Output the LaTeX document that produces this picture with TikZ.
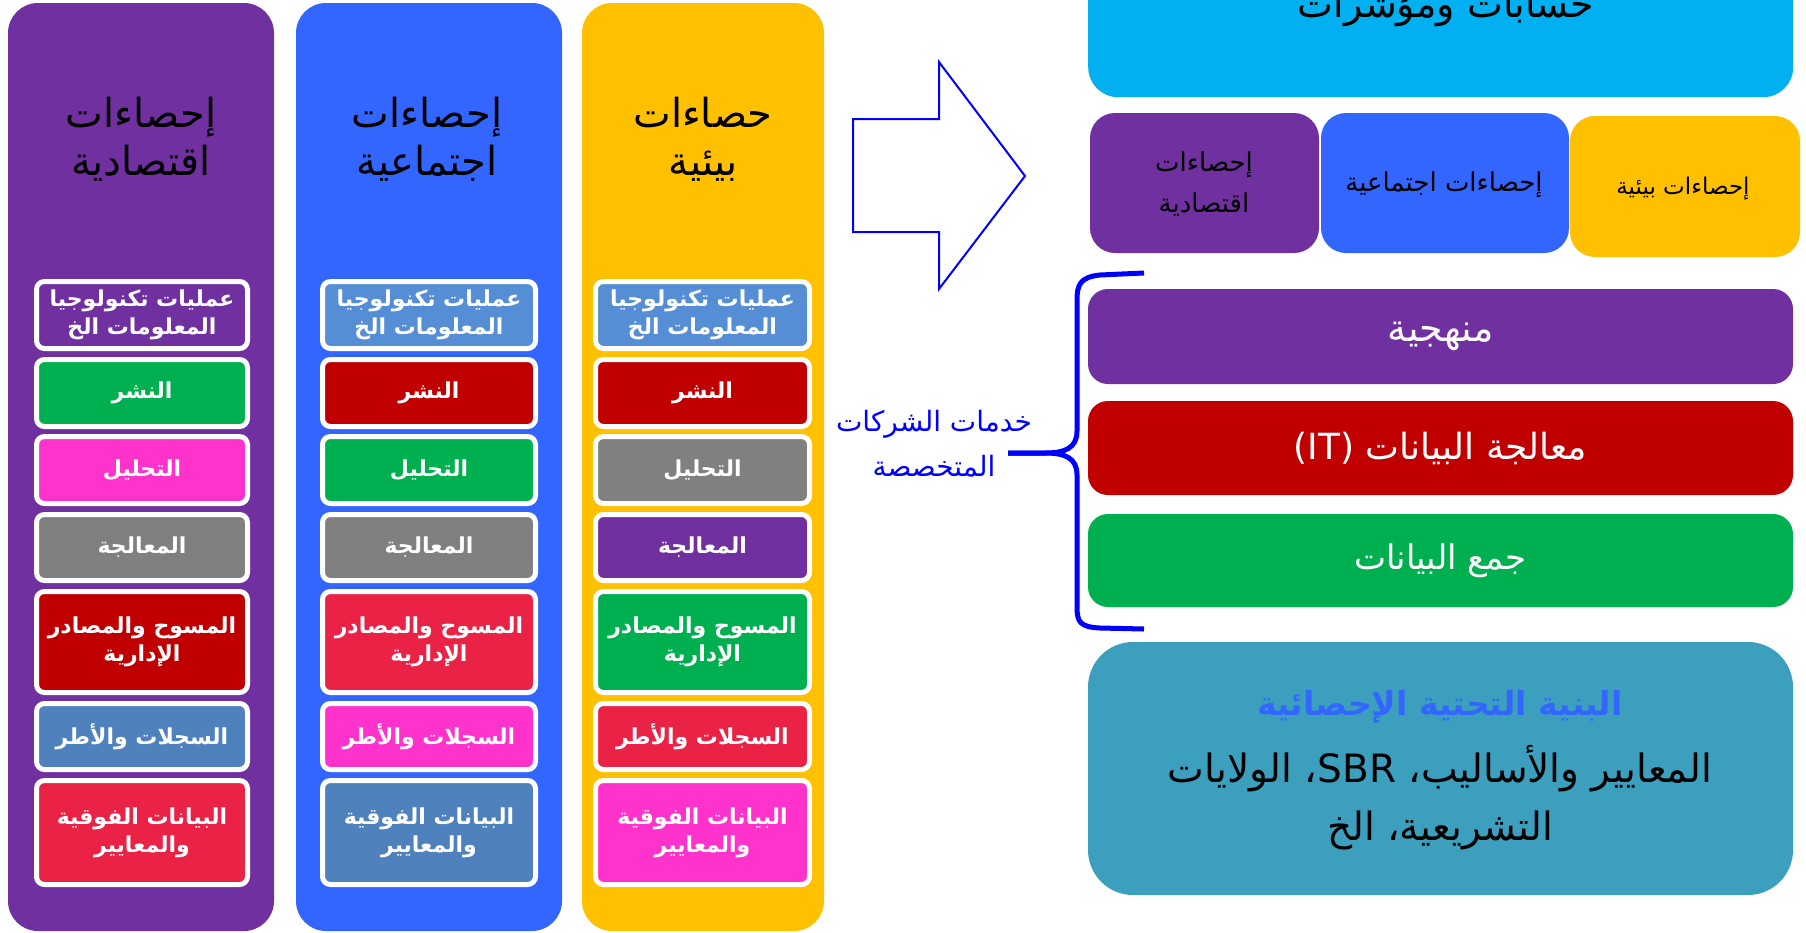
\documentclass[tikz,border=0pt]{standalone}
\usepackage{fontspec}
\setmainfont{DejaVu Sans}
\newfontfamily\ar[Script=Arabic]{DejaVu Sans}
\TeXXeTstate=1
\newcommand{\rtl}[1]{{\ar\beginR #1\endR}}
\definecolor{cPurple}{HTML}{7030A0}
\definecolor{cBlue}{HTML}{3366FF}
\definecolor{cYellow}{HTML}{FFC000}
\definecolor{cCyan}{HTML}{00B0F0}
\definecolor{cTeal}{HTML}{3C9FBE}
\definecolor{cGreen}{HTML}{00B050}
\definecolor{cDark}{HTML}{C00000}
\definecolor{cGray}{HTML}{808080}
\definecolor{cMag}{HTML}{FF33CC}
\definecolor{cSteel}{HTML}{4F81BD}
\definecolor{cLight}{HTML}{558ED5}
\definecolor{cCrim}{HTML}{EA2246}
\definecolor{cPure}{HTML}{0000FF}
\tikzset{
  column/.style={draw=none, fill=#1, rounded corners=30pt, inner sep=0pt},
  item/.style={draw=white, line width=5pt, fill=#1, rounded corners=8pt, text=white, align=center,
     font=\ar\bfseries\fontsize{22}{28}\selectfont, inner sep=0pt},
  colhead/.style={align=center, text=black, font=\ar\fontsize{40}{48}\selectfont},
  rbox/.style={draw=none, fill=#1, rounded corners=20pt, inner sep=0pt, align=center},
  brace/.style={draw=cPure, line width=5pt},
  bigarrow/.style={draw=cPure, line width=2pt, fill=white},
}
\begin{document}
\begin{tikzpicture}[x=1pt,y=-1pt]
\clip (0,0) rectangle (1806,932);
\fill[white] (0,0) rectangle (1806,932);

% columns
\node[column=cPurple, minimum width=266pt, minimum height=928pt] (c1) at (141,467) {};
\node[column=cBlue, minimum width=266pt, minimum height=928pt] (c2) at (429,467) {};
\node[column=cYellow, minimum width=242pt, minimum height=928pt] (c3) at (703,467) {};

\node[colhead] (h1) at (141,139) {\rtl{إحصاءات}\\\rtl{اقتصادية}};
\node[colhead] (h2) at (427,139) {\rtl{إحصاءات}\\\rtl{اجتماعية}};
\node[colhead] (h3) at (703,139) {\rtl{حصاءات}\\\rtl{بيئية}};

% column 1 items
\node[item=cPurple, minimum width=211pt, minimum height=67pt] (a1) at (142,315) {\rtl{عمليات تكنولوجيا}\\\rtl{المعلومات الخ}};
\node[item=cGreen, minimum width=211pt, minimum height=67pt] (a2) at (142,393) {\rtl{النشر}};
\node[item=cMag, minimum width=211pt, minimum height=67pt] (a3) at (142,470) {\rtl{التحليل}};
\node[item=cGray, minimum width=211pt, minimum height=66pt] (a4) at (142,547.5) {\rtl{المعالجة}};
\node[item=cDark, minimum width=211pt, minimum height=101pt] (a5) at (142,642) {\rtl{المسوح والمصادر}\\\rtl{الإدارية}};
\node[item=cSteel, minimum width=211pt, minimum height=66pt] (a6) at (142,736.5) {\rtl{السجلات والأطر}};
\node[item=cCrim, minimum width=211pt, minimum height=104pt] (a7) at (142,832.5) {\rtl{البيانات الفوقية}\\\rtl{والمعايير}};

% column 2 items
\node[item=cLight, minimum width=213pt, minimum height=67pt] (b1) at (429,315) {\rtl{عمليات تكنولوجيا}\\\rtl{المعلومات الخ}};
\node[item=cDark, minimum width=213pt, minimum height=67pt] (b2) at (429,393) {\rtl{النشر}};
\node[item=cGreen, minimum width=213pt, minimum height=67pt] (b3) at (429,470) {\rtl{التحليل}};
\node[item=cGray, minimum width=213pt, minimum height=66pt] (b4) at (429,547.5) {\rtl{المعالجة}};
\node[item=cCrim, minimum width=213pt, minimum height=101pt] (b5) at (429,642) {\rtl{المسوح والمصادر}\\\rtl{الإدارية}};
\node[item=cMag, minimum width=213pt, minimum height=66pt] (b6) at (429,736.5) {\rtl{السجلات والأطر}};
\node[item=cSteel, minimum width=213pt, minimum height=104pt] (b7) at (429,832.5) {\rtl{البيانات الفوقية}\\\rtl{والمعايير}};

% column 3 items
\node[item=cLight, minimum width=214pt, minimum height=67pt] (d1) at (702.5,315) {\rtl{عمليات تكنولوجيا}\\\rtl{المعلومات الخ}};
\node[item=cDark, minimum width=214pt, minimum height=67pt] (d2) at (702.5,393) {\rtl{النشر}};
\node[item=cGray, minimum width=214pt, minimum height=67pt] (d3) at (702.5,470) {\rtl{التحليل}};
\node[item=cPurple, minimum width=214pt, minimum height=66pt] (d4) at (702.5,547.5) {\rtl{المعالجة}};
\node[item=cGreen, minimum width=214pt, minimum height=101pt] (d5) at (702.5,642) {\rtl{المسوح والمصادر}\\\rtl{الإدارية}};
\node[item=cCrim, minimum width=214pt, minimum height=66pt] (d6) at (702.5,736.5) {\rtl{السجلات والأطر}};
\node[item=cMag, minimum width=214pt, minimum height=104pt] (d7) at (702.5,832.5) {\rtl{البيانات الفوقية}\\\rtl{والمعايير}};

% big arrow
\draw[bigarrow] (853,119) -- (939,119) -- (939,62) -- (1025,176) -- (939,289) -- (939,232) -- (853,232) -- cycle;

% services label and brace
\node[align=center, text=cPure, font=\ar\fontsize{28}{45}\selectfont] (svc) at (934,444) {\rtl{خدمات الشركات}\\\rtl{المتخصصة}};
\coordinate (bt) at (1144,273);
\coordinate (bb) at (1144,629);
\coordinate (tip) at (1008,453);
\draw[brace] (bt) -- (1100,275) .. controls (1080,277) and (1077,285) .. (1077,300) -- (1077,431)
   .. controls (1077,448) and (1065,453) .. (1045,453) -- (tip);
\draw[brace] (tip) -- (1045,453) .. controls (1065,453) and (1077,458) .. (1077,475) -- (1077,607)
   .. controls (1077,622) and (1080,627) .. (1100,628) -- (bb);

% right side
\node[rbox=cCyan, rounded corners=30pt, minimum width=705pt, minimum height=157pt, anchor=north west] (acc) at (1088,-60) {};
\node[font=\ar\fontsize{38}{46}\selectfont, anchor=base] (acct) at (1446,17) {\rtl{حسابات ومؤشرات}};

\node[rbox=cPurple, rounded corners=25pt, minimum width=229pt, minimum height=140pt] (r1) at (1204.5,183) {};
\node[rbox=cBlue, rounded corners=25pt, minimum width=248pt, minimum height=140pt] (r2) at (1445,183) {};
\node[rbox=cYellow, rounded corners=25pt, minimum width=230pt, minimum height=141pt] (r3) at (1685,186.5) {};
\node[align=center, font=\ar\fontsize{26}{41}\selectfont] (r1t) at (1204,184) {\rtl{إحصاءات}\\\rtl{اقتصادية}};
\node[align=center, font=\ar\fontsize{26}{32}\selectfont] (r2t) at (1444,185) {\rtl{إحصاءات اجتماعية}};
\node[align=center, font=\ar\fontsize{23}{28}\selectfont] (r3t) at (1683,189) {\rtl{إحصاءات بيئية}};

\node[rbox=cPurple, minimum width=705pt, minimum height=95pt, text=white, font=\ar\fontsize{38}{46}\selectfont] (meth) at (1440.5,336.5) {\rtl{منهجية}};
\node[rbox=cDark, minimum width=705pt, minimum height=94pt, text=white, font=\ar\fontsize{36}{44}\selectfont] (proc) at (1440.5,448) {\rtl{معالجة البيانات \beginL(IT)\endL}};
\node[rbox=cGreen, minimum width=705pt, minimum height=93pt, text=white, font=\ar\fontsize{34}{42}\selectfont] (coll) at (1440.5,560.5) {\rtl{جمع البيانات}};

\node[rbox=cTeal, rounded corners=45pt, minimum width=705pt, minimum height=253pt] (infra) at (1440.5,768.5) {};
\node[text=cBlue, font=\ar\bfseries\fontsize{33}{40}\selectfont] (inft) at (1440,707) {\rtl{البنية التحتية الإحصائية}};
\node[align=center, text=black, font=\ar\fontsize{39}{58}\selectfont] (infb) at (1440,798) {\rtl{المعايير والأساليب، \beginL SBR\endL، الولايات}\\\rtl{التشريعية، الخ}};
\end{tikzpicture}
\end{document}
